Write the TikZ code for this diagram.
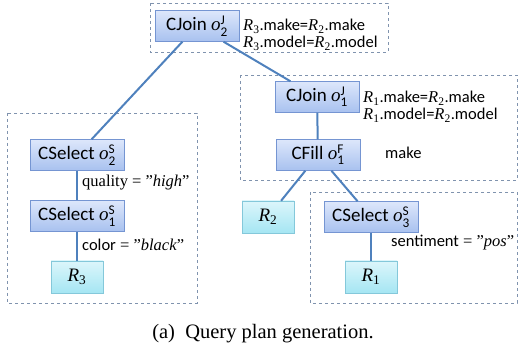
\documentclass[tikz,border=0pt]{standalone}
\usepackage{amsmath}
\usepackage{fontspec}
\setmainfont{Liberation Serif}
\setsansfont{Carlito}
\definecolor{opTop}{HTML}{DDE7FB}
\definecolor{opBot}{HTML}{A8C1EF}
\definecolor{opLine}{HTML}{7595D2}
\definecolor{relTop}{HTML}{DCF6FB}
\definecolor{relBot}{HTML}{A5E6F3}
\definecolor{relLine}{HTML}{84C8DA}
\definecolor{edgeBlue}{HTML}{4F81BD}
\definecolor{boxGray}{HTML}{8093AE}
\newcommand{\opo}[2]{$\text{\rmfamily\itshape o}^{\textsf{#1}}_{\textsf{#2}}$}
\newcommand{\rel}[1]{$\text{\rmfamily\itshape R}_{\textrm{#1}}$}
\tikzset{
  opnode/.style={draw=opLine, top color=opTop, bottom color=opBot,
    minimum height=31pt, minimum width=84pt, inner xsep=8pt,
    font=\sffamily\fontsize{19}{21}\selectfont},
  relnode/.style={draw=relLine, top color=relTop, bottom color=relBot,
    minimum height=32pt, minimum width=52pt, font=\fontsize{19}{21}\selectfont},
  planedge/.style={draw=edgeBlue, line width=2pt},
  groupbox/.style={draw=boxGray, dashed, line width=0.7pt},
  cond/.style={anchor=base west, inner sep=0pt, font=\fontsize{16.5}{16.5}\selectfont}
}

\begin{document}
\begin{tikzpicture}[x=1pt,y=-1pt]
            \useasboundingbox (0,0) rectangle (520,352);

            % Groups
            \draw[groupbox] (150,3) rectangle (388,52);
            \draw[groupbox] (240,75) rectangle (517,180);
            \draw[groupbox] (7,113) rectangle (197,303);
            \draw[groupbox] (310,192) rectangle (517,303);

            % Operators
            \node[opnode] (j2) at (197,26) {CJoin \opo{J}{2}};
            \node[opnode] (j1) at (317,97) {CJoin \opo{J}{1}};
            \node[opnode] (f1) at (318,155) {CFill \opo{F}{1}};
            \node[opnode] (s2) at (77,155) {CSelect \opo{S}{2}};
            \node[opnode] (s1) at (77,216) {CSelect \opo{S}{1}};
            \node[opnode] (s3) at (371,217) {CSelect \opo{S}{3}};

            % Relations
            \node[relnode] (r3) at (77,277) {\rel{3}};
            \node[relnode] (r2) at (268,217) {\rel{2}};
            \node[relnode] (r1) at (371,277) {\rel{1}};

            % Plan edges
            \draw[planedge] (j2) -- (s2);
            \draw[planedge] (j2) -- (j1);
            \draw[planedge] (j1) -- (f1);
            \draw[planedge] (f1) -- (r2);
            \draw[planedge] (f1) -- (s3);
            \draw[planedge] (s2) -- (s1);
            \draw[planedge] (s1) -- (r3);
            \draw[planedge] (s3) -- (r1);

            % Conditions
            \node[cond] (c2a) at (243,31) {\rel{3}\textsf{.make=}\rel{2}\textsf{.make}};
            \node[cond] (c2b) at (243,48) {\rel{3}\textsf{.model=}\rel{2}\textsf{.model}};
            \node[cond] (c1a) at (363,103) {\rel{1}\textsf{.make=}\rel{2}\textsf{.make}};
            \node[cond] (c1b) at (363,120) {\rel{1}\textsf{.model=}\rel{2}\textsf{.model}};
            \node[cond] (fa) at (385,159) {\textsf{make}};
            \node[cond] (qa) at (82,187) {quality = ''\textit{high}''};
            \node[cond] (ca) at (82,251) {\textsf{color} = ''\textit{black}''};
            \node[cond] (sa) at (391,247) {\textsf{sentiment} = ''\textit{pos}''};

            % Caption
            \node[anchor=base, font=\fontsize{20.5}{22}\selectfont] (cap) at (263,339) {(a)\enspace Query plan generation.};
        \end{tikzpicture}
\end{document}
